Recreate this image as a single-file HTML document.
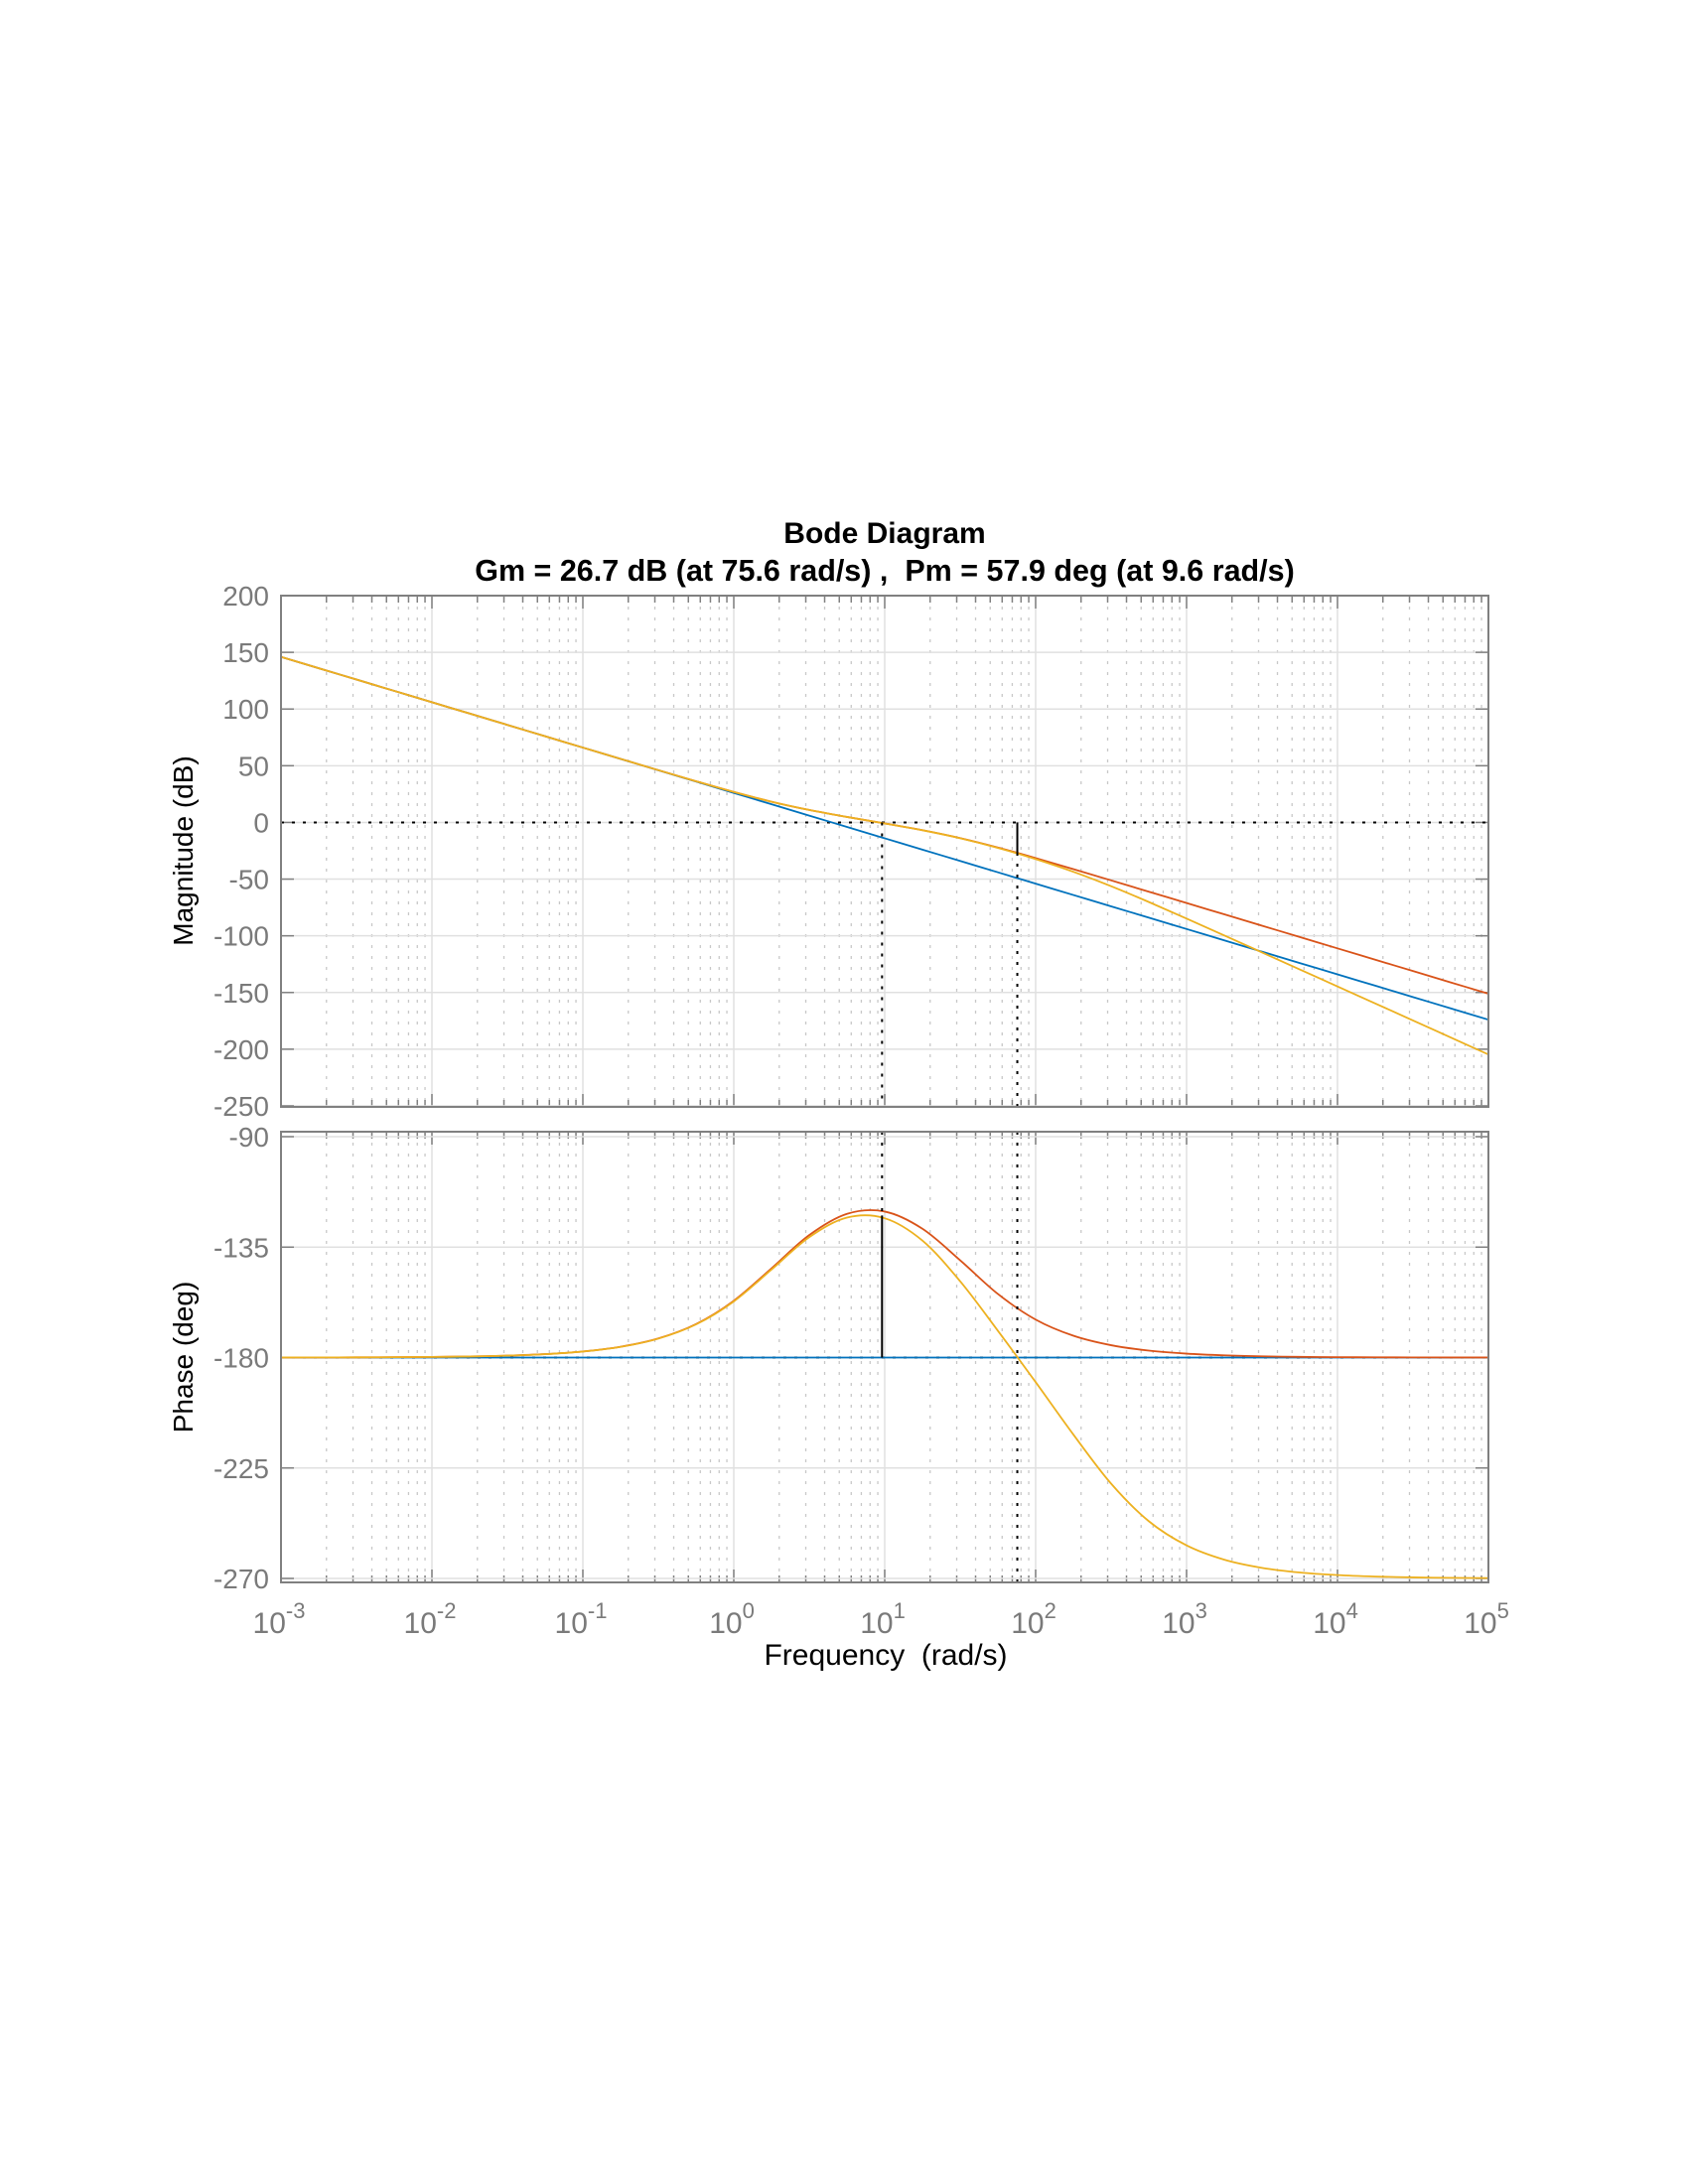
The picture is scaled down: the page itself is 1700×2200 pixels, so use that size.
<!DOCTYPE html>
<html><head><meta charset="utf-8"><style>
html,body{margin:0;padding:0;background:#fff;}
svg{display:block;font-family:"Liberation Sans",Arial,sans-serif;}
</style></head><body>
<svg id="chart" width="1700" height="2200" viewBox="0 0 1700 2200" xmlns="http://www.w3.org/2000/svg">
<text x="891" y="547" text-anchor="middle" font-size="30" font-weight="bold" fill="#000">Bode Diagram</text>
<text x="891" y="585" text-anchor="middle" font-size="30.5" font-weight="bold" fill="#000" style="white-space:pre" xml:space="preserve">Gm = 26.7 dB (at 75.6 rad/s) ,  Pm = 57.9 deg (at 9.6 rad/s)</text>
<text transform="translate(194,857) rotate(-90)" text-anchor="middle" font-size="28" fill="#000">Magnitude (dB)</text>
<text transform="translate(194,1367) rotate(-90)" text-anchor="middle" font-size="28" fill="#000">Phase (deg)</text>
<text x="892" y="1677" text-anchor="middle" font-size="30" fill="#000" style="white-space:pre" xml:space="preserve">Frequency  (rad/s)</text>
<g id="layer"></g>
</svg>
<script>
// ---- data ----
const logFreq = [-3,-2.75,-2.5,-2.25,-2,-1.75,-1.5,-1.25,-1,-0.75,-0.5,-0.25,0,0.25,0.5,0.75,1,1.25,1.5,1.75,2,2.25,2.5,2.75,3,3.25,3.5,3.75,4,4.25,4.5,4.75,5];
const magBlue = [146,136,126,116,106,96,86,76,66,56,46,36,26,16,6,-4,-14,-24,-34,-44,-54,-64,-74,-84,-94,-104,-114,-124,-134,-144,-154,-164,-174];
const magRed = [146,136,126,116,106,96,86,76,66,56.03,46.09,36.29,26.85,18.26,10.98,4.83,-0.87,-6.86,-13.83,-22.14,-31.44,-41.19,-51.11,-61.08,-71.07,-81.07,-91.07,-101.07,-111.07,-121.07,-131.07,-141.07,-151.07];
const magYellow = [146,136,126,116,106,96,86,76,66,56.03,46.09,36.29,26.85,18.26,10.98,4.83,-0.88,-6.89,-13.93,-22.44,-32.33,-43.54,-56.25,-70.20,-84.81,-99.68,-114.65,-129.63,-144.63,-159.63,-174.63,-189.63,-204.63];
const phBlue = [-180,-180,-180,-180,-180,-180,-180,-180,-180,-180,-180,-180,-180,-180,-180,-180,-180,-180,-180,-180,-180,-180,-180,-180,-180,-180,-180,-180,-180,-180,-180,-180,-180];
const phRed = [-179.97,-179.95,-179.92,-179.86,-179.75,-179.56,-179.21,-178.60,-177.52,-175.59,-172.20,-166.35,-156.86,-143.66,-130.10,-121.45,-120.51,-127.52,-140.37,-154.10,-164.53,-171.11,-174.97,-177.17,-178.40,-179.10,-179.50,-179.72,-179.84,-179.91,-179.95,-179.97,-179.98];
const phYellow = [-179.97,-179.95,-179.92,-179.86,-179.75,-179.57,-179.22,-178.62,-177.55,-175.64,-172.29,-166.50,-157.13,-144.15,-130.96,-122.98,-123.24,-132.36,-148.93,-169.09,-189.99,-211.37,-231.38,-246.69,-256.54,-262.37,-265.70,-267.58,-268.64,-269.23,-269.57,-269.76,-269.86];
const magTicks = [200,150,100,50,0,-50,-100,-150,-200,-250];
const phTicks = [-90,-135,-180,-225,-270];
const decades = [-3,-2,-1,0,1,2,3,4,5];
const gainMargin = {freq:75.6, mag:-26.7};
const phaseMargin = {freq:9.6, phase:-122.1};

// ---- axes ----
const X0=283, X1=1499;
const xs = L => X0 + (L+3)/8*(X1-X0);
const magBox={top:600,bot:1115}, phBox={top:1140,bot:1594};
const ym = v => 600 + (200-v)/450*(1114-600);
const yp = v => 1145 + (-90-v)/180*(1590-1145);
const NS="http://www.w3.org/2000/svg";
const layer=document.getElementById('layer');
function mk(tag,attrs,parent){const e=document.createElementNS(NS,tag);for(const k in attrs)e.setAttribute(k,attrs[k]);(parent||layer).appendChild(e);return e;}
function smooth(pts){let d=`M${pts[0][0]},${pts[0][1]}`;for(let i=0;i<pts.length-1;i++){const p0=pts[Math.max(0,i-1)],p1=pts[i],p2=pts[i+1],p3=pts[Math.min(pts.length-1,i+2)];const c1=[p1[0]+(p2[0]-p0[0])/6,p1[1]+(p2[1]-p0[1])/6],c2=[p2[0]-(p3[0]-p1[0])/6,p2[1]-(p3[1]-p1[1])/6];d+=`C${c1[0].toFixed(2)},${c1[1].toFixed(2)} ${c2[0].toFixed(2)},${c2[1].toFixed(2)} ${p2[0].toFixed(2)},${p2[1].toFixed(2)}`;}return d;}

function panel(name,box,ticks,yf,series,clipId){
  const g=mk('g',{});
  
  
  for(let di=0;di<decades.length-1;di++){for(let m=2;m<=9;m++){const x=xs(decades[di]+Math.log10(m));
    const l=mk('line',{x1:x,x2:x,y1:box.top,y2:box.bot,stroke:'#c8c8c8','stroke-width':1.3,'stroke-dasharray':'3 8'},g);
    
    
    for(const [y,s] of [[box.top,1],[box.bot,-1]]){const t=mk('line',{x1:x,x2:x,y1:y,y2:y+s*7,stroke:'#808080','stroke-width':1.5},g);
      
      }
  }}
  decades.forEach(L=>{const x=xs(L);
    const l=mk('line',{x1:x,x2:x,y1:box.top,y2:box.bot,stroke:'#e0e0e0','stroke-width':1.5},g);
    
    
    for(const [y,s] of [[box.top,1],[box.bot,-1]]){const t=mk('line',{x1:x,x2:x,y1:y,y2:y+s*13,stroke:'#808080','stroke-width':1.5},g);
      
      }
  });
  ticks.forEach(v=>{const y=yf(v);
    const l=mk('line',{x1:X0,x2:X1,y1:y,y2:y,stroke:'#e0e0e0','stroke-width':1.5},g);
    
    
    const t1=mk('line',{x1:X0,x2:X0+13,y1:y,y2:y,stroke:'#808080','stroke-width':1.5},g);
    
    
    const t2=mk('line',{x1:X1,x2:X1-13,y1:y,y2:y,stroke:'#808080','stroke-width':1.5},g);
    
    
    const tx=mk('text',{x:X0-12,y:y+10,'text-anchor':'end','font-size':28,fill:'#7a7a7a'},g);
    tx.textContent=v;
    
    
  });
  const clip=mk('clipPath',{id:clipId},g);mk('rect',{x:X0,y:box.top,width:X1-X0,height:box.bot-box.top},clip);
  return g;
}
const gm=panel('magnitude',magBox,magTicks,ym,null,'cm');
const gp=panel('phase',phBox,phTicks,yp,null,'cp');

let r=mk('line',{x1:X0,x2:X1,y1:ym(0),y2:ym(0),stroke:'#000','stroke-width':2,'stroke-dasharray':'3 8'},gm);


r=mk('line',{x1:X0,x2:X1,y1:yp(-180),y2:yp(-180),stroke:'#000','stroke-width':2,'stroke-dasharray':'3 8'},gp);



function drawSeries(g,vals,yf,color,name,clip){
  const pts=logFreq.map((L,i)=>[xs(L),yf(vals[i])]);
  const p=mk('path',{d:smooth(pts),fill:'none',stroke:color,'stroke-width':1.8,'clip-path':`url(#${clip})`},g);
  
  
}
drawSeries(gm,magBlue,ym,'#0072BD','magnitude-blue','cm');
drawSeries(gm,magRed,ym,'#D95319','magnitude-red','cm');
drawSeries(gm,magYellow,ym,'#EDB120','magnitude-yellow','cm');
drawSeries(gp,phBlue,yp,'#0072BD','phase-blue','cp');
drawSeries(gp,phRed,yp,'#D95319','phase-red','cp');
drawSeries(gp,phYellow,yp,'#EDB120','phase-yellow','cp');

const xg=xs(Math.log10(gainMargin.freq)), xpm=xs(Math.log10(phaseMargin.freq));
let m;
m=mk('line',{x1:xg,x2:xg,y1:ym(0),y2:ym(gainMargin.mag),stroke:'#000','stroke-width':2},gm);


m=mk('line',{x1:xg,x2:xg,y1:ym(gainMargin.mag),y2:magBox.bot,stroke:'#000','stroke-width':2,'stroke-dasharray':'3 8'},gm);


m=mk('line',{x1:xg,x2:xg,y1:phBox.top,y2:phBox.bot,stroke:'#000','stroke-width':2,'stroke-dasharray':'3 8'},gp);


m=mk('line',{x1:xpm,x2:xpm,y1:ym(0),y2:magBox.bot,stroke:'#000','stroke-width':2,'stroke-dasharray':'3 8'},gm);


m=mk('line',{x1:xpm,x2:xpm,y1:phBox.top,y2:yp(phaseMargin.phase),stroke:'#000','stroke-width':2,'stroke-dasharray':'3 8'},gp);


m=mk('line',{x1:xpm,x2:xpm,y1:yp(-180),y2:yp(phaseMargin.phase),stroke:'#000','stroke-width':2},gp);



for(const [g,box,n] of [[gm,magBox,'magnitude-axes-box'],[gp,phBox,'phase-axes-box']]){
  const f=mk('rect',{x:X0,y:box.top,width:X1-X0,height:box.bot-box.top,fill:'none',stroke:'#808080','stroke-width':2},g);
  
  
}
decades.forEach(L=>{
  const t=mk('text',{x:xs(L)-2,y:1645,'text-anchor':'middle','font-size':30,fill:'#7a7a7a'});
  
  
  t.appendChild(document.createTextNode('10'));
  const s=mk('tspan',{dy:-15,'font-size':22},t);
  s.textContent=String(L);
});
</script>
</body></html>
